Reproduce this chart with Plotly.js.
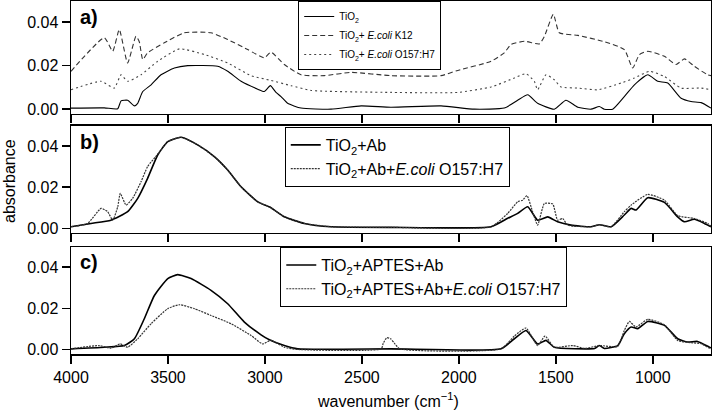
<!DOCTYPE html>
<html>
<head>
<meta charset="utf-8">
<script src="https://cdn.plot.ly/plotly-3.0.1.min.js"></script>
<style>html,body{margin:0;padding:0;background:#fff;}#chart{width:712px;height:412px;}</style>
</head>
<body>
<div id="chart"></div>
<script>
// ---- Data (wavenumber in cm^-1, absorbance) ----
const a_tio2_wn = [4000,3828,3759,3742,3708,3673,3656,3630,3587,3536,3467,3398,3244,3192,3123,3037,3003,2972,2943,2917,2883,2814,2659,2504,2350,2092,1920,1766,1697,1645,1594,1508,1448,1387,1319,1276,1250,1207,1147,1095,1026,975,923,854,803,751,700];
const a_tio2 = [0.0005,0.0006,0.0002,0.0038,0.0041,0.0015,0.0027,0.0081,0.0112,0.0158,0.0189,0.0200,0.0197,0.0174,0.0128,0.0092,0.0081,0.0108,0.0077,0.0058,0.0027,0.0005,0.0000,0.0015,0.0009,0.0015,0.0000,0.0005,0.0041,0.0066,0.0027,0.0000,0.0041,0.0009,0.0000,0.0012,0.0000,0.0000,0.0058,0.0112,0.0158,0.0128,0.0120,0.0050,0.0035,0.0030,0.0005];

const a_k12_wn = [4000,3828,3785,3751,3708,3665,3648,3630,3605,3519,3416,3278,3192,3089,3003,2969,2900,2814,2694,2556,2350,2092,2006,1834,1766,1731,1662,1585,1559,1513,1482,1387,1250,1147,1104,1069,1026,940,880,837,786,717,700];
const a_k12 = [0.0174,0.0328,0.0266,0.0366,0.0212,0.0335,0.0310,0.0228,0.0259,0.0305,0.0351,0.0351,0.0320,0.0274,0.0236,0.0262,0.0205,0.0158,0.0154,0.0169,0.0154,0.0154,0.0178,0.0220,0.0259,0.0297,0.0312,0.0300,0.0335,0.0436,0.0351,0.0339,0.0310,0.0274,0.0189,0.0251,0.0266,0.0243,0.0205,0.0231,0.0197,0.0158,0.0154];

const a_o157_wn = [4000,3845,3777,3742,3708,3639,3553,3441,3312,3192,3072,2969,2865,2762,2350,2006,1834,1714,1654,1611,1594,1551,1508,1473,1387,1284,1164,1095,1018,940,854,751,700];
const a_o157 = [0.0089,0.0128,0.0097,0.0158,0.0128,0.0158,0.0220,0.0277,0.0251,0.0212,0.0154,0.0132,0.0108,0.0086,0.0077,0.0077,0.0102,0.0143,0.0163,0.0128,0.0089,0.0158,0.0135,0.0102,0.0097,0.0089,0.0120,0.0143,0.0174,0.0150,0.0097,0.0097,0.0089];

const b_ab_wn = [4000,3897,3794,3708,3656,3605,3553,3501,3433,3347,3261,3192,3123,3037,2969,2900,2797,2659,2350,1834,1748,1697,1645,1594,1542,1491,1422,1319,1276,1215,1147,1112,1087,1026,940,872,837,786,734,700];
const b_ab = [0.0008,0.0024,0.0040,0.0081,0.0146,0.0243,0.0356,0.0421,0.0442,0.0405,0.0348,0.0283,0.0202,0.0129,0.0100,0.0056,0.0024,0.0008,0.0005,0.0008,0.0049,0.0073,0.0105,0.0040,0.0056,0.0032,0.0016,0.0008,0.0018,0.0008,0.0065,0.0097,0.0089,0.0149,0.0126,0.0056,0.0032,0.0044,0.0024,0.0008];

const b_abec_wn = [4000,3914,3845,3811,3785,3759,3746,3716,3682,3639,3605,3553,3501,3433,3347,3261,3192,3123,3037,2969,2900,2797,2659,2350,1834,1748,1697,1671,1649,1620,1594,1559,1516,1491,1465,1439,1319,1276,1215,1147,1112,1026,940,872,786,717,700];
const b_abec = [0.0008,0.0024,0.0097,0.0081,0.0040,0.0105,0.0170,0.0113,0.0146,0.0226,0.0300,0.0360,0.0421,0.0442,0.0405,0.0348,0.0283,0.0202,0.0129,0.0100,0.0056,0.0024,0.0008,0.0005,0.0008,0.0073,0.0129,0.0137,0.0159,0.0081,0.0016,0.0121,0.0118,0.0040,0.0048,0.0016,0.0008,0.0018,0.0008,0.0081,0.0113,0.0165,0.0137,0.0062,0.0048,0.0024,0.0010];

const c_ap_wn = [4000,3828,3725,3673,3622,3570,3501,3450,3381,3278,3192,3106,3020,2977,2900,2831,2350,1783,1714,1654,1594,1551,1508,1300,1276,1250,1181,1147,1112,1078,1026,940,872,820,769,708,700];
const c_ap = [0.0003,0.0011,0.0019,0.0052,0.0149,0.0262,0.0344,0.0363,0.0344,0.0287,0.0222,0.0133,0.0071,0.0047,0.0019,0.0003,0.0003,0.0003,0.0052,0.0092,0.0027,0.0044,0.0011,0.0005,0.0019,0.0005,0.0019,0.0076,0.0109,0.0101,0.0136,0.0117,0.0052,0.0036,0.0039,0.0011,0.0008];

const c_apec_wn = [4000,3854,3794,3746,3708,3656,3587,3501,3441,3364,3278,3175,3072,3012,2969,2900,2831,2400,2390,2372,2352,2332,2305,1783,1714,1654,1594,1556,1508,1413,1350,1276,1181,1147,1121,1087,1026,940,872,803,751,708,700];
const c_apec = [0.0003,0.0019,0.0006,0.0027,0.0011,0.0052,0.0125,0.0198,0.0217,0.0198,0.0165,0.0125,0.0068,0.0027,0.0044,0.0011,0.0000,0.0003,0.0030,0.0057,0.0052,0.0030,0.0003,0.0003,0.0065,0.0104,0.0019,0.0065,0.0011,0.0019,0.0005,0.0019,0.0015,0.0092,0.0136,0.0109,0.0146,0.0120,0.0044,0.0033,0.0028,0.0006,0.0005];

const xTicks = [4000,3500,3000,2500,2000,1500,1000];
const yTicks = [0, 0.02, 0.04];
const names = {
  a1: 'TiO<sub>2</sub>',
  a2: 'TiO<sub>2</sub>+ <i>E.coli</i> K12',
  a3: 'TiO<sub>2</sub>+ <i>E.coli</i> O157:H7',
  b1: 'TiO<sub>2</sub>+Ab',
  b2: 'TiO<sub>2</sub>+Ab+<i>E.coli</i> O157:H7',
  c1: 'TiO<sub>2</sub>+APTES+Ab',
  c2: 'TiO<sub>2</sub>+APTES+Ab+<i>E.coli</i> O157:H7'
};

// ---- Traces ----
const sp = {shape:'spline', smoothing:0.5};
const traces = [
  {x:a_tio2_wn, y:a_tio2, name:names.a1, xaxis:'x', yaxis:'y', legend:'legend', mode:'lines', line:Object.assign({color:'#000', width:1.1}, sp)},
  {x:a_k12_wn, y:a_k12, name:names.a2, xaxis:'x', yaxis:'y', legend:'legend', mode:'lines', line:Object.assign({color:'#333', width:1.1, dash:'5px,3px'}, sp)},
  {x:a_o157_wn, y:a_o157, name:names.a3, xaxis:'x', yaxis:'y', legend:'legend', mode:'lines', line:Object.assign({color:'#444', width:1.1, dash:'2px,3px'}, sp)},
  {x:b_ab_wn, y:b_ab, name:names.b1, xaxis:'x2', yaxis:'y2', legend:'legend2', mode:'lines', line:Object.assign({color:'#000', width:1.6}, sp)},
  {x:b_abec_wn, y:b_abec, name:names.b2, xaxis:'x2', yaxis:'y2', legend:'legend2', mode:'lines', line:Object.assign({color:'#333', width:1.2, dash:'2px,1px'}, sp)},
  {x:c_ap_wn, y:c_ap, name:names.c1, xaxis:'x3', yaxis:'y3', legend:'legend3', mode:'lines', line:Object.assign({color:'#000', width:1.6}, sp)},
  {x:c_apec_wn, y:c_apec, name:names.c2, xaxis:'x3', yaxis:'y3', legend:'legend3', mode:'lines', line:Object.assign({color:'#333', width:1.2, dash:'2px,1px'}, sp)}
];

const FONT = 'Liberation Sans, Arial, sans-serif';
function xax(anchor, labels){
  return {anchor:anchor, range:[4000,700], tickmode:'array', tickvals:xTicks, ticks:'outside', ticklen:8, tickwidth:1.5,
    tickcolor:'#000', showticklabels:labels, showgrid:false, zeroline:false, showline:true, mirror:true,
    linecolor:'#000', linewidth:1.5, tickfont:{size:16, color:'#000', family:FONT}};
}
function yax(dom, anchor){
  return {domain:dom, anchor:anchor, range:[-0.0022,0.0497], tickmode:'array', tickvals:yTicks, tickformat:'.2f',
    ticks:'outside', ticklen:8, tickwidth:1.5, tickcolor:'#000', showgrid:false, zeroline:false, showline:true,
    mirror:true, linecolor:'#000', linewidth:1.5, tickfont:{size:16, color:'#000', family:FONT}};
}
function leg(x, y, size){
  return {x:x, y:y, xanchor:'left', yanchor:'top', xref:'paper', yref:'paper', bgcolor:'#fff', bordercolor:'#000',
    borderwidth:1, font:{size:size, color:'#000', family:FONT}, itemwidth:30, tracegroupgap:0};
}

const layout = {
  width:712, height:412,
  margin:{l:71, r:1, t:1, b:58},
  paper_bgcolor:'#fff', plot_bgcolor:'#fff',
  font:{family:FONT, color:'#000'},
  showlegend:true,
  xaxis: xax('y', false),
  xaxis2: Object.assign(xax('y2', false), {matches:'x'}),
  xaxis3: Object.assign(xax('y3', true), {matches:'x'}),
  yaxis: yax([0.680, 1.0], 'x'),
  yaxis2: yax([0.343, 0.646], 'x2'),
  yaxis3: yax([0.0, 0.303], 'x3'),
  legend: leg(0.355, 1.0, 10),
  legend2: leg(0.334, 0.643, 16),
  legend3: leg(0.327, 0.303, 16),
  annotations: [
    {text:'<b>a)</b>', xref:'paper', yref:'paper', x:0.011, y:0.955, xanchor:'left', yanchor:'middle', showarrow:false, font:{size:20, family:FONT}},
    {text:'<b>b)</b>', xref:'paper', yref:'paper', x:0.011, y:0.600, xanchor:'left', yanchor:'middle', showarrow:false, font:{size:20, family:FONT}},
    {text:'<b>c)</b>', xref:'paper', yref:'paper', x:0.011, y:0.261, xanchor:'left', yanchor:'middle', showarrow:false, font:{size:20, family:FONT}},
    {text:'absorbance', xref:'paper', yref:'paper', x:-0.097, y:0.49, xanchor:'center', yanchor:'middle', textangle:-90, showarrow:false, font:{size:16, family:FONT}},
    {text:'wavenumber (cm<sup>−1</sup>)', xref:'paper', yref:'paper', x:0.495, y:-0.130, xanchor:'center', yanchor:'middle', showarrow:false, font:{size:16, family:FONT}}
  ]
};

Plotly.newPlot('chart', traces, layout, {staticPlot:true, displayModeBar:false});
</script>
</body>
</html>
